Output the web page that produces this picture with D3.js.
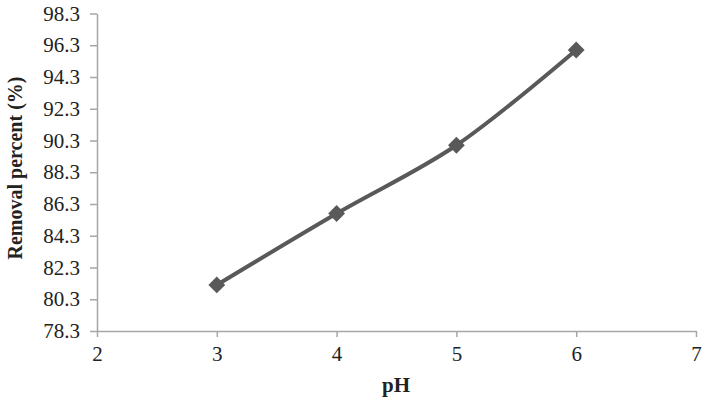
<!DOCTYPE html>
<html><head><meta charset="utf-8">
<script src="https://cdn.jsdelivr.net/npm/d3@7"></script>
<style>body{margin:0;background:#fff}</style>
</head><body>
<svg id="c" width="707" height="407"></svg>
<script>
const pH = [3, 4, 5, 6];
const removal = [81.2, 85.7, 90.0, 96.0];
const xTicks = [2, 3, 4, 5, 6, 7];
const yTicks = [78.3, 80.3, 82.3, 84.3, 86.3, 88.3, 90.3, 92.3, 94.3, 96.3, 98.3];

const svg = d3.select("#c");
const x = d3.scaleLinear().domain([2, 7]).range([97, 696]);
const y = d3.scaleLinear().domain([78.3, 98.3]).range([331, 13.5]);
const axisColor = "#a6a6a6";
const font = "'Liberation Serif','Times New Roman',serif";

const gx = svg.append("g").attr("transform", "translate(0,331)")
  .call(d3.axisBottom(x).tickValues(xTicks).tickFormat(d3.format("d")).tickSize(6).tickSizeOuter(0));
const gy = svg.append("g").attr("transform", "translate(97,0)")
  .call(d3.axisLeft(y).tickValues(yTicks).tickFormat(d3.format(".1f")).tickSize(7).tickSizeOuter(0));
[gx, gy].forEach(g => {
  g.select(".domain").attr("stroke", axisColor).attr("stroke-width", 1.5);
  g.selectAll(".tick line").attr("stroke", axisColor).attr("stroke-width", 1.5);
  g.selectAll(".tick text").attr("fill", "#222").style("font-family", font).style("font-size", "21px");
});
gx.selectAll(".tick text").attr("dy", "0.71em").attr("y", 15);
gy.selectAll(".tick text").attr("x", -17);

const line = d3.line().x((d, i) => x(pH[i])).y(d => y(d)).curve(d3.curveCatmullRom.alpha(0.5));
svg.append("path").datum(removal).attr("d", line)
  .attr("fill", "none").attr("stroke", "#595959").attr("stroke-width", 4);

svg.selectAll(".m").data(removal).enter().append("path")
  .attr("d", d3.symbol().type(d3.symbolDiamond2).size(180))
  .attr("transform", (d, i) => `translate(${x(pH[i])},${y(d)})`)
  .attr("fill", "#595959");

svg.append("text").attr("x", 396).attr("y", 392).attr("text-anchor", "middle")
  .style("font-family", font).style("font-size", "21px").style("font-weight", "bold").attr("fill", "#222")
  .text("pH");
svg.append("text").attr("transform", "translate(22,168) rotate(-90)").attr("text-anchor", "middle")
  .style("font-family", font).style("font-size", "20px").style("font-weight", "bold").attr("fill", "#222")
  .text("Removal percent (%)");
</script>
</body></html>
